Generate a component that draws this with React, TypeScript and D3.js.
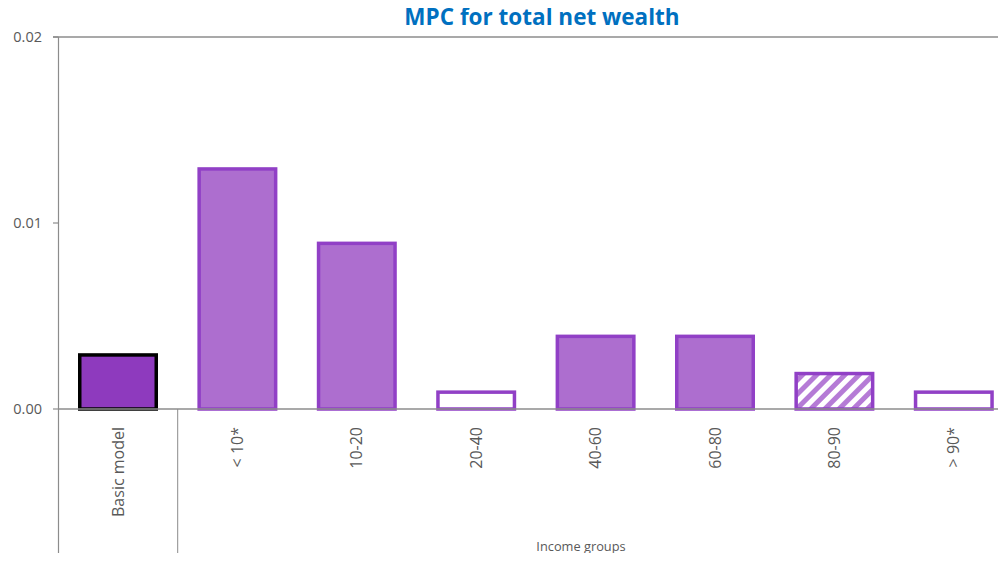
import React from "react";
import * as d3 from "d3";

const categories = ["Basic model", "< 10*", "10-20", "20-40", "40-60", "60-80", "80-90", "> 90*"];
const values = [0.003, 0.013, 0.009, 0.001, 0.004, 0.004, 0.002, 0.001];
const styles = ["basic", "solid", "solid", "hollow", "solid", "solid", "hatch", "hollow"];
const yTicks = [0, 0.01, 0.02];
const yTickLabels = ["0.00", "0.01", "0.02"];
const title = "MPC for total net wealth";
const xTitle = "Income groups";

const W = 1006;
const H = 561;
const font = "Open Sans, sans-serif";

export default function App() {
  const x = d3.scaleBand<string>().domain(categories).range([58.3, 1013.5]).paddingInner(0.33).paddingOuter(0.165);
  const y = d3.scaleLinear().domain([0, 0.02]).range([409, 37]);
  const purple = "#9140C6";
  const fillFor = (s: string) =>
    s === "basic" ? "#8E3ABE" : s === "solid" ? "#AD6ECF" : s === "hatch" ? "url(#hatch)" : "#FFFFFF";
  const strokeFor = (s: string) => (s === "basic" ? "#000000" : purple);
  const step = x.step();
  const sepX = (x(categories[1]) as number) - step * x.paddingInner() / 2;
  return (
    <div style={{ margin: -8 }}>
      <svg width={W} height={H} style={{ display: "block" }}>
        <defs>
          <pattern id="hatch" patternUnits="userSpaceOnUse" width="10" height="10" patternTransform="rotate(45)">
            <rect width="10" height="10" fill="#fff" />
            <rect width="5" height="10" fill="#B57BD6" />
          </pattern>
        </defs>
        <text x={542} y={25} textAnchor="middle" fontFamily={font} fontWeight={700} fontSize={22.5} fill="#0070C0">
          {title}
        </text>
        {/* top gridline */}
        <line x1={53} x2={W} y1={y(0.02)} y2={y(0.02)} stroke="#8C8C8C" strokeWidth={1.3} />
        {/* y axis */}
        <line x1={58.5} x2={58.5} y1={y(0.02)} y2={555} stroke="#8C8C8C" strokeWidth={1.2} />
        {yTicks.map((t, i) => (
          <g key={i}>
            <line x1={53} x2={58.5} y1={y(t)} y2={y(t)} stroke="#8C8C8C" strokeWidth={1.2} />
            <text x={42} y={y(t)} dy="0.35em" textAnchor="end" fontFamily={font} fontSize={14.5} fill="#595959">
              {yTickLabels[i]}
            </text>
          </g>
        ))}
        {categories.map((c, i) => {
          const v = values[i];
          const bx = x(c) as number;
          const bw = x.bandwidth();
          const sw = 3.5;
          return (
            <rect
              key={c}
              x={bx + sw / 2}
              y={y(v) + sw / 2}
              width={bw - sw}
              height={y(0) - y(v) - sw / 2}
              fill={fillFor(styles[i])}
              stroke={strokeFor(styles[i])}
              strokeWidth={sw}
            />
          );
        })}
        {/* zero line */}
        <line x1={58.5} x2={W} y1={y(0)} y2={y(0)} stroke="#8C8C8C" strokeWidth={1.3} />
        {/* separator */}
        <line x1={sepX} x2={sepX} y1={y(0)} y2={555} stroke="#8C8C8C" strokeWidth={1} />
        {categories.map((c) => {
          const cx = (x(c) as number) + x.bandwidth() / 2;
          return (
            <text
              key={c}
              transform={`translate(${cx},${427}) rotate(-90)`}
              textAnchor="end"
              dy="0.35em"
              fontFamily={font}
              fontSize={16}
              fill="#595959"
            >
              {c}
            </text>
          );
        })}
        <text x={581} y={551} textAnchor="middle" fontFamily={font} fontSize={12.8} fill="#595959">
          {xTitle}
        </text>
      </svg>
    </div>
  );
}
